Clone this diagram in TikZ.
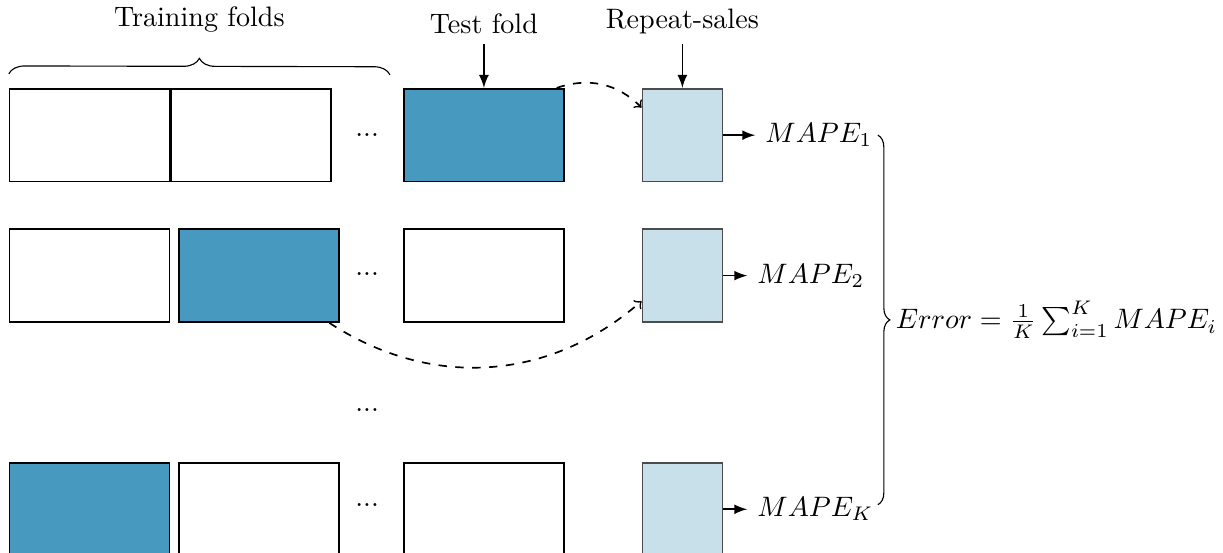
\documentclass[tikz,border=0pt]{standalone}
\usepackage{tikz}
\usetikzlibrary{positioning, decorations.pathreplacing}
\definecolor{foldblue}{HTML}{4899BF}
\definecolor{saleblue}{HTML}{C8E0EA}

\begin{document}
\begin{tikzpicture}[
semithick,
fold/.style={rectangle, draw=black, fill=white, minimum width=2cm, minimum height=1.16cm},
testfold/.style={fold, fill=foldblue},
sale/.style={rectangle, draw=black!70, fill=saleblue, minimum width=1cm, minimum height=1.16cm},
brc/.style={decorate, decoration={brace, amplitude=#1}, thin},
node distance=0.575cm
]
\useasboundingbox (0,0) rectangle (15.29,6.91);
%Nodes
\node[fold]      (F11)  at (1.12,5.22)            {};
\node[fold]      (F12)  [right=0pt of F11]        {};
\node            (D1)   at (4.59,5.22)            {...};
\node[testfold]  (F13)  at (6.05,5.22)            {};
\node[sale]      (R1)   [right=0.96cm of F13]     {};
\node            (M1)   [right=0.4cm of R1]       {$MAPE_1$};

\node[fold]      (F21)  [below=of F11]            {};
\node[testfold]  (F22)  [right=0.1cm of F21]      {};
\node            (D2)   at (4.59,3.48)            {...};
\node[fold]      (F23)  [below=of F13]            {};
\node[sale]      (R2)   [below=of R1]             {};
\node            (M2)   [right=0.3cm of R2]       {$MAPE_2$};

\node            (D3)   at (4.59,1.79)            {...};

\node[testfold]  (F41)  [below=1.74cm of F21]     {};
\node[fold]      (F42)  [right=0.1cm of F41]      {};
\node            (D4)   at (4.59,0.59)            {...};
\node[fold]      (F43)  [below=1.74cm of F23]     {};
\node[sale]      (R4)   [below=1.74cm of R2]      {};
\node            (M4)   [right=0.3cm of R4]       {$MAPE_K$};

\node            (test) [above=0.55cm of F13]     {Test fold};
\node            (rep)  [above=0.55cm of R1]      {Repeat-sales};

%Lines
\draw[-latex] (test) -- (F13);
\draw[-latex] (rep) -- (R1);
\draw[-latex] (R1) -- (M1);
\draw[-latex] (R2) -- (M2);
\draw[-latex] (R4) -- (M4);
\draw[->, dashed] (F13.33) to[bend left=32] (R1.146);
\draw[->, dashed] (F22.326) to[bend right=37] (R2.212);

%Braces
\draw[brc=0.2cm] ([yshift=0.175cm]F11.north west) -- (4.875,5.975) node[midway, above=0.4cm] (train) {Training folds};
\draw[brc=0.15cm] (10.975,5.22) -- (10.975,0.6) node[midway, right=0.1cm] (err) {$Error = \frac{1}{K}\sum_{i=1}^{K} MAPE_i$};
\end{tikzpicture}
\end{document}
